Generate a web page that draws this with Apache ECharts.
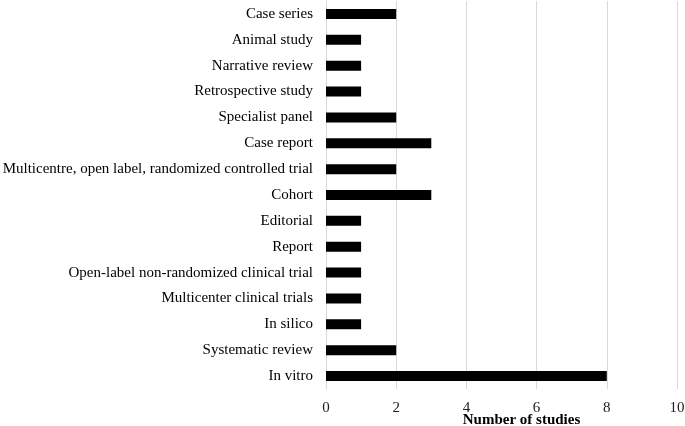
<!DOCTYPE html>
<html><head><meta charset="utf-8">
<script src="https://cdn.jsdelivr.net/npm/echarts@6/dist/echarts.min.js"></script>
<style>html,body{margin:0;padding:0;background:#fff}#c{width:685px;height:426px}</style>
</head><body><div id="c"></div>
<script>
const categories = ["Case series","Animal study","Narrative review","Retrospective study","Specialist panel","Case report","Multicentre, open label, randomized controlled trial","Cohort","Editorial","Report","Open-label non-randomized clinical trial","Multicenter clinical trials","In silico","Systematic review","In vitro"];
const studies = [2,1,1,1,2,3,2,3,1,1,1,1,1,2,8];
const xTicks = {min:0, max:10, interval:2};
const font = "Liberation Serif";
const chart = echarts.init(document.getElementById('c'));
chart.setOption({
  animation:false,
  grid:{left:326, right:8, top:1, height:388, containLabel:false, outerBoundsMode:'none'},
  xAxis:{type:'value', min:xTicks.min, max:xTicks.max, interval:xTicks.interval,
    axisLine:{show:false}, axisTick:{show:false},
    splitLine:{show:true, lineStyle:{color:'#d9d9d9', width:1}},
    axisLabel:{fontFamily:font, fontSize:15, color:'#222', margin:12},
    name:'Number of studies', nameLocation:'middle', nameGap:24, nameMoveOverlap:false,
    nameTextStyle:{fontFamily:font, fontSize:15, fontWeight:'bold', color:'#000', padding:[0,0,0,40]}},
  yAxis:{type:'category', data:categories, inverse:true,
    axisLine:{show:true, lineStyle:{color:'#d9d9d9'}}, axisTick:{show:false},
    axisLabel:{fontFamily:font, fontSize:15, color:'#000', margin:13}},
  series:[{type:'bar', data:studies, barWidth:10, itemStyle:{color:'#000'}}]
});
</script></body></html>
